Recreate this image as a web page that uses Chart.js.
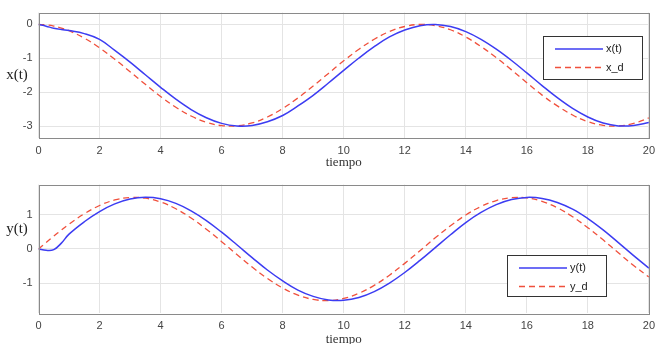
<!DOCTYPE html>
<html>
<head>
<meta charset="utf-8">
<script src="https://cdn.jsdelivr.net/npm/chart.js@4.4.1/dist/chart.umd.min.js"></script>
<style>
  html, body { margin: 0; padding: 0; background: #fff; }
  #wrap { position: relative; width: 661px; height: 344px; }
  .panel { position: absolute; left: 0; width: 661px; height: 172px; }
</style>
</head>
<body>
<div id="wrap">
  <div class="panel" style="top:0"><canvas id="chartX" width="661" height="172"></canvas></div>
  <div class="panel" style="top:172px"><canvas id="chartY" width="661" height="172"></canvas></div>
</div>
<script>
// time samples (s)
var tiempo = [0, 0.25, 0.5, 0.75, 1, 1.5, 2, 2.5, 3, 3.5, 4, 4.5, 5, 5.5, 6, 6.5, 7, 7.5, 8, 8.5, 9, 9.5,
  10, 10.5, 11, 11.5, 12, 12.5, 13, 13.5, 14, 14.5, 15, 15.5, 16, 16.5, 17, 17.5, 18, 18.5, 19, 19.5, 20];

var xReal = [0, -0.05, -0.11, -0.15, -0.18, -0.27, -0.44, -0.767, -1.113, -1.484, -1.855, -2.205, -2.511, -2.752,
  -2.919, -2.995, -2.979, -2.870, -2.687, -2.405, -2.091, -1.728, -1.355, -0.989, -0.654, -0.368, -0.165,
  -0.035, 0.000, -0.063, -0.212, -0.440, -0.730, -1.064, -1.429, -1.803, -2.161, -2.477, -2.729, -2.908,
  -2.993, -2.982, -2.894];
var xDeseada = [0, -0.012, -0.047, -0.105, -0.184, -0.402, -0.690, -1.027, -1.394, -1.767, -2.124, -2.442,
  -2.702, -2.886, -2.985, -2.991, -2.905, -2.731, -2.480, -2.169, -1.816, -1.444, -1.074, -0.732, -0.437,
  -0.208, -0.060, 0.000, -0.035, -0.156, -0.369, -0.651, -0.980, -1.340, -1.718, -2.085, -2.403, -2.672,
  -2.867, -2.977, -2.996, -2.921, -2.759];

var yReal = [0, -0.04, -0.02, 0.17, 0.43, 0.79, 1.086, 1.309, 1.449, 1.500, 1.457, 1.324, 1.108, 0.824, 0.487,
  0.122, -0.252, -0.612, -0.928, -1.196, -1.379, -1.483, -1.493, -1.410, -1.239, -0.991, -0.684, -0.333,
  0.040, 0.413, 0.768, 1.061, 1.287, 1.436, 1.498, 1.469, 1.352, 1.157, 0.883, 0.554, 0.185, -0.192, -0.560];
var yDeseada = [0, 0.187, 0.371, 0.549, 0.719, 1.022, 1.262, 1.423, 1.496, 1.476, 1.364, 1.167, 0.898, 0.573,
  0.212, -0.162, -0.526, -0.857, -1.135, -1.343, -1.466, -1.499, -1.438, -1.288, -1.058, -0.762, -0.419,
  -0.050, 0.323, 0.675, 0.985, 1.235, 1.407, 1.491, 1.484, 1.381, 1.198, 0.936, 0.618, 0.264, -0.113,
  -0.479, -0.816];

var tiempoTicks = [0, 2, 4, 6, 8, 10, 12, 14, 16, 18, 20];
var xTicks = [-3, -2, -1, 0];
var yTicks = [-1, 0, 1];

var blue = '#3c3cf2';
var red = '#f0503c';

var toPoints = function (vals) {
    return tiempo.map(function (t, i) { return { x: t, y: vals[i] }; });
};

// axes box, horizontal y label and legend in the MATLAB style
var matlabDeco = {
    id: 'matlabDeco',
    afterDraw: function (chart, args, opts) {
        var ctx = chart.ctx;
        var a = chart.chartArea;
        ctx.save();
        ctx.strokeStyle = '#8a8a8a';
        ctx.lineWidth = 1;
        ctx.strokeRect(Math.round(a.left) + 0.5, Math.round(a.top) + 0.5,
            Math.round(a.right - a.left), Math.round(a.bottom - a.top));

        ctx.fillStyle = '#222';
        ctx.font = '15px "Liberation Serif", "Times New Roman", serif';
        ctx.textAlign = 'center';
        ctx.textBaseline = 'middle';
        ctx.fillText(opts.ylabel.text, opts.ylabel.x, opts.ylabel.y);

        var b = opts.legend;
        ctx.fillStyle = '#fff';
        ctx.fillRect(b.x, b.y, b.w, b.h);
        ctx.strokeStyle = '#333';
        ctx.strokeRect(b.x + 0.5, b.y + 0.5, b.w, b.h);
        ctx.font = '11px "Liberation Sans", Arial, sans-serif';
        ctx.textAlign = 'left';
        chart.data.datasets.forEach(function (ds, i) {
            var ry = b.y + 13 + i * 18.5;
            ctx.beginPath();
            ctx.strokeStyle = ds.borderColor;
            ctx.lineWidth = ds.borderWidth;
            ctx.setLineDash(ds.borderDash || []);
            ctx.moveTo(b.x + 12, ry);
            ctx.lineTo(b.x + 60, ry);
            ctx.stroke();
            ctx.setLineDash([]);
            ctx.fillStyle = '#222';
            ctx.fillText(ds.label, b.x + 63, ry);
        });
        ctx.restore();
    }
};

var buildChart = function (id, real, deseada, labels, ticks, ymin, ymax, pad, axisH, titlePad, ylabel, legend) {
    return new Chart(id, {
        type: 'line',
        data: {
            datasets: [{
                label: labels[0],
                data: toPoints(real),
                borderColor: blue,
                borderWidth: 1.5,
                pointRadius: 0,
                tension: 0.4,
                fill: false
            }, {
                label: labels[1],
                data: toPoints(deseada),
                borderColor: red,
                borderWidth: 1.3,
                borderDash: [6, 4],
                pointRadius: 0,
                tension: 0.4,
                fill: false
            }]
        },
        options: {
            responsive: false,
            animation: false,
            devicePixelRatio: 1,
            layout: { padding: { left: 0, right: 6.5, top: pad, bottom: 0 } },
            plugins: {
                legend: { display: false },
                tooltip: { enabled: false },
                matlabDeco: { ylabel: ylabel, legend: legend }
            },
            scales: {
                x: {
                    type: 'linear',
                    min: 0,
                    max: 20,
                    afterBuildTicks: function (s) { s.ticks = tiempoTicks.map(function (v) { return { value: v }; }); },
                    afterFit: function (s) { s.height = axisH; },
                    grid: { color: '#e4e4e4', drawTicks: false },
                    border: { display: false },
                    ticks: {
                        padding: 6,
                        maxRotation: 0,
                        color: '#444',
                        font: { family: '"Liberation Sans", Arial, sans-serif', size: 11 }
                    },
                    title: {
                        display: true,
                        text: 'tiempo',
                        color: '#333',
                        padding: { top: 0, bottom: titlePad },
                        font: { family: '"Liberation Serif", "Times New Roman", serif', size: 13 }
                    }
                },
                y: {
                    type: 'linear',
                    min: ymin,
                    max: ymax,
                    afterBuildTicks: function (s) { s.ticks = ticks.map(function (v) { return { value: v }; }); },
                    afterFit: function (s) { s.width = 38.5; },
                    grid: { color: '#e4e4e4', drawTicks: false },
                    border: { display: false },
                    ticks: {
                        padding: 6,
                        color: '#444',
                        font: { family: '"Liberation Sans", Arial, sans-serif', size: 11 }
                    }
                }
            }
        },
        plugins: [matlabDeco]
    });
};

buildChart('chartX', xReal, xDeseada, ['x(t)', 'x_d'], xTicks, -3.35, 0.35, 10, 34, 1.5,
    { text: 'x(t)', x: 17, y: 75 }, { x: 543, y: 36, w: 99, h: 43 });
buildChart('chartY', yReal, yDeseada, ['y(t)', 'y_d'], yTicks, -1.87, 1.87, 10.7, 30.7, -3,
    { text: 'y(t)', x: 17, y: 57 }, { x: 507, y: 83, w: 99, h: 41 });
</script>
</body>
</html>
